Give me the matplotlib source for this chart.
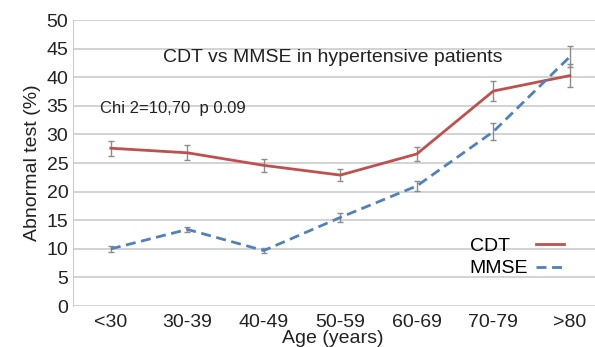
import matplotlib.pyplot as plt
import numpy as np

plt.rcParams['font.family'] = ['Liberation Sans', 'DejaVu Sans']

ages = ['<30', '30-39', '40-49', '50-59', '60-69', '70-79', '>80']
cdt = [27.6, 26.8, 24.6, 22.9, 26.6, 37.6, 40.3]
cdt_err = [1.3, 1.3, 1.2, 1.0, 1.2, 1.8, 2.0]
mmse = [10.0, 13.4, 9.7, 15.5, 21.0, 30.5, 43.6]
mmse_err = [0.5, 0.5, 0.5, 0.8, 0.8, 1.5, 1.8]

red = '#c0504d'
blue = '#4f81bd'
txt = '#222222'
dash = (0, (3.6, 2))

fig = plt.figure(figsize=(5.95, 3.47), dpi=100)
ax = fig.add_axes([0.122, 0.118, 0.90, 0.824])

x = np.arange(len(ages))
ax.errorbar(x, cdt, yerr=cdt_err, color=red, lw=2, ecolor='#8c8c8c',
            elinewidth=1, capsize=2.5, capthick=1, zorder=3)
ax.errorbar(x, mmse, yerr=mmse_err, color=blue, lw=2, ls=dash,
            ecolor='#8c8c8c', elinewidth=1, capsize=2.5, capthick=1, zorder=3)

ax.set_xlim(-0.5, 6.5)
ax.set_ylim(0, 50)
ax.set_yticks(np.arange(0, 51, 5))
ax.set_xticks(x)
ax.set_xticklabels(ages)
ax.grid(axis='y', color='#cccccc', lw=1.2)
ax.set_axisbelow(True)
for s in ['top', 'right', 'bottom']:
    ax.spines[s].set_visible(False)
ax.spines['left'].set_color('#cccccc')
ax.tick_params(axis='both', length=0, labelsize=14, colors=txt)
ax.tick_params(axis='y', pad=3)
ax.tick_params(axis='x', pad=6)

ax.set_ylabel('Abnormal test (%)', fontsize=14, color=txt, labelpad=4)
ax.set_xlabel('Age (years)', fontsize=14, color=txt)
ax.xaxis.set_label_coords(0.485, -0.085)
ax.xaxis.label.set_va('top')

ax.text(0.485, 0.87, 'CDT vs MMSE in hypertensive patients', transform=ax.transAxes,
        ha='center', va='center', fontsize=14, color=txt)
ax.text(0.052, 0.69, 'Chi 2=10,70  p 0.09', transform=ax.transAxes,
        ha='left', va='center', fontsize=12, color=txt)

handles = [plt.Line2D([], [], color=red, lw=2),
           plt.Line2D([], [], color=blue, lw=2, ls=dash)]
leg = ax.legend(handles, ['CDT', 'MMSE'], loc='lower right',
                bbox_to_anchor=(0.918, 0.1), frameon=False, fontsize=14,
                markerfirst=False, handlelength=1.45, labelspacing=0.25,
                handletextpad=0.4, borderpad=0, borderaxespad=0)

# left-align the labels while keeping the handles in one column
fig.canvas.draw()
r = fig.canvas.get_renderer()
w = [t.get_window_extent(r).width for t in leg.get_texts()]
col = leg._legend_handle_box.get_children()[0]
col.align = 'left'
for box, wi in zip(col.get_children(), w):
    box.sep += (max(w) - wi) * 72 / fig.dpi

fig.savefig('out.png', dpi=100)
